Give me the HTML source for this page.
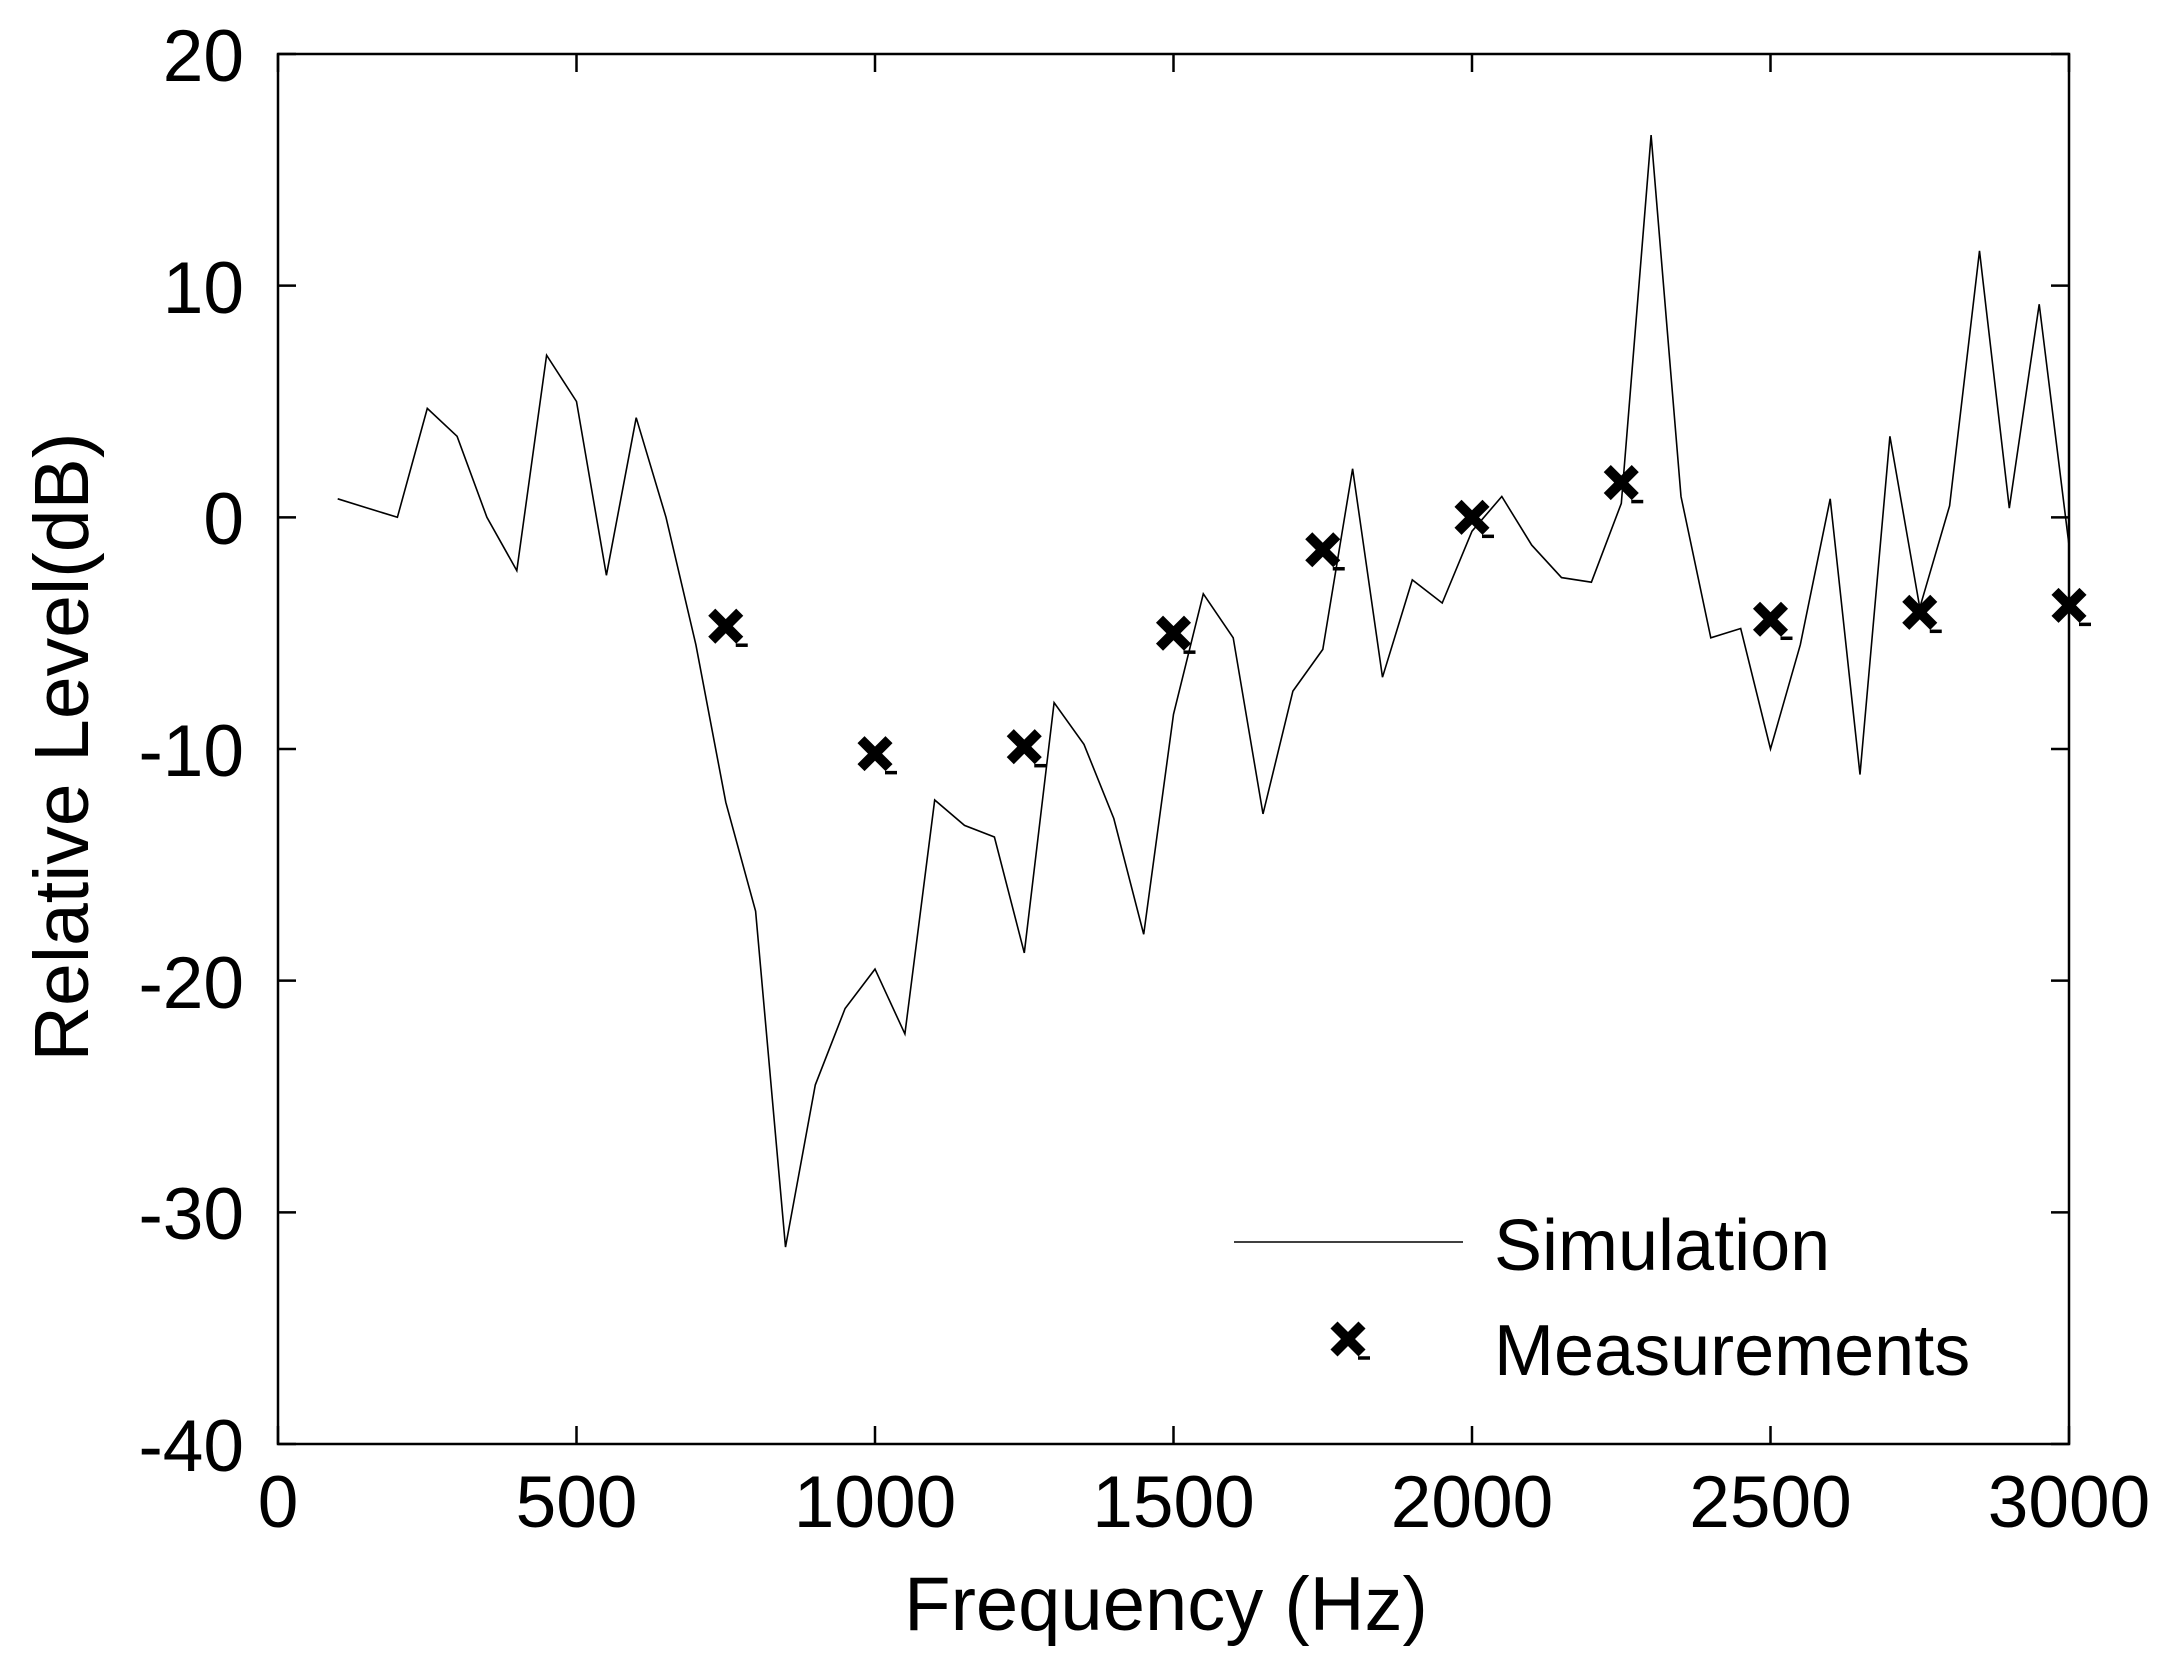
<!DOCTYPE html>
<html><head><style>body{margin:0;background:#fff}svg{display:block}</style></head>
<body>
<svg id="s" width="2169" height="1680" viewBox="0 0 2169 1680" xmlns="http://www.w3.org/2000/svg" font-family="Liberation Sans, Arial, sans-serif">
<rect width="2169" height="1680" fill="#fff"/>
<rect x="278" y="54" width="1791" height="1390" fill="none" stroke="#000" stroke-width="2.5"/>
<g id="ticks" stroke="#000" stroke-width="2.5"></g>
<g font-size="73" text-anchor="end">
<text x="244" y="81">20</text>
<text x="244" y="313">10</text>
<text x="244" y="544">0</text>
<text x="244" y="776">-10</text>
<text x="244" y="1008">-20</text>
<text x="244" y="1239">-30</text>
<text x="244" y="1471">-40</text>
</g>
<g font-size="73" text-anchor="middle">
<text x="278" y="1527">0</text>
<text x="576.5" y="1527">500</text>
<text x="875" y="1527">1000</text>
<text x="1173.5" y="1527">1500</text>
<text x="1472" y="1527">2000</text>
<text x="1770.5" y="1527">2500</text>
<text x="2069" y="1527">3000</text>
</g>
<text x="1166" y="1630" font-size="76" text-anchor="middle">Frequency (Hz)</text>
<text transform="translate(88,747) rotate(-90)" font-size="77" text-anchor="middle">Relative Level(dB)</text>
<polyline id="sim" fill="none" stroke="#000" stroke-width="1.6"/>
<g id="meas" stroke="#000" stroke-width="10"></g>
<line x1="1234" y1="1242" x2="1463" y2="1242" stroke="#000" stroke-width="1.6"/>
<text x="1494" y="1270" font-size="72">Simulation</text>
<text x="1494" y="1375" font-size="72">Measurements</text>
</svg>
<script>
const X=f=>278+f*1791/3000, Y=d=>54+(20-d)*1390/60;
const sim=[0.8,0.4,0,4.7,3.5,0,-2.3,7,5,-2.5,4.3,0,-5.5,-12.3,-17,-31.5,-24.5,-21.2,-19.5,-22.3,-12.2,-13.3,-13.8,-18.8,-8,-9.8,-13,-18,-8.5,-3.3,-5.2,-12.8,-7.5,-5.7,2.1,-6.9,-2.7,-3.7,-0.6,0.9,-1.2,-2.6,-2.8,0.6,16.5,0.9,-5.2,-4.8,-10,-5.5,0.8,-11.1,3.5,-3.9,0.5,11.5,0.4,9.2,-1.2];
document.getElementById('sim').setAttribute('points',sim.map((d,i)=>X(100+50*i).toFixed(1)+','+Y(d).toFixed(1)).join(' '));
const m=[[750,-4.7],[1000,-10.2],[1250,-9.9],[1500,-5],[1750,-1.4],[2000,0],[2250,1.5],[2500,-4.4],[2750,-4.1],[3000,-3.8]];
let g='';const mk=(x,y)=>{const r=14;return `<line x1="${x-r}" y1="${y-r}" x2="${x+r}" y2="${y+r}"/><line x1="${x-r}" y1="${y+r}" x2="${x+r}" y2="${y-r}"/><line x1="${x+10}" y1="${y+19}" x2="${x+22}" y2="${y+19}" stroke-width="3.5"/>`};
m.forEach(([f,d])=>g+=mk(X(f),Y(d)));g+=mk(1348,1339);
document.getElementById('meas').innerHTML=g;
let t='';
for(let i=0;i<=6;i++){const x=X(i*500);t+=`<line x1="${x}" y1="1444" x2="${x}" y2="1426"/><line x1="${x}" y1="54" x2="${x}" y2="72"/>`;}
for(let i=0;i<=6;i++){const y=Y(20-10*i);t+=`<line x1="278" y1="${y}" x2="296" y2="${y}"/><line x1="2069" y1="${y}" x2="2051" y2="${y}"/>`;}
document.getElementById('ticks').innerHTML=t;
</script>
</body></html>
